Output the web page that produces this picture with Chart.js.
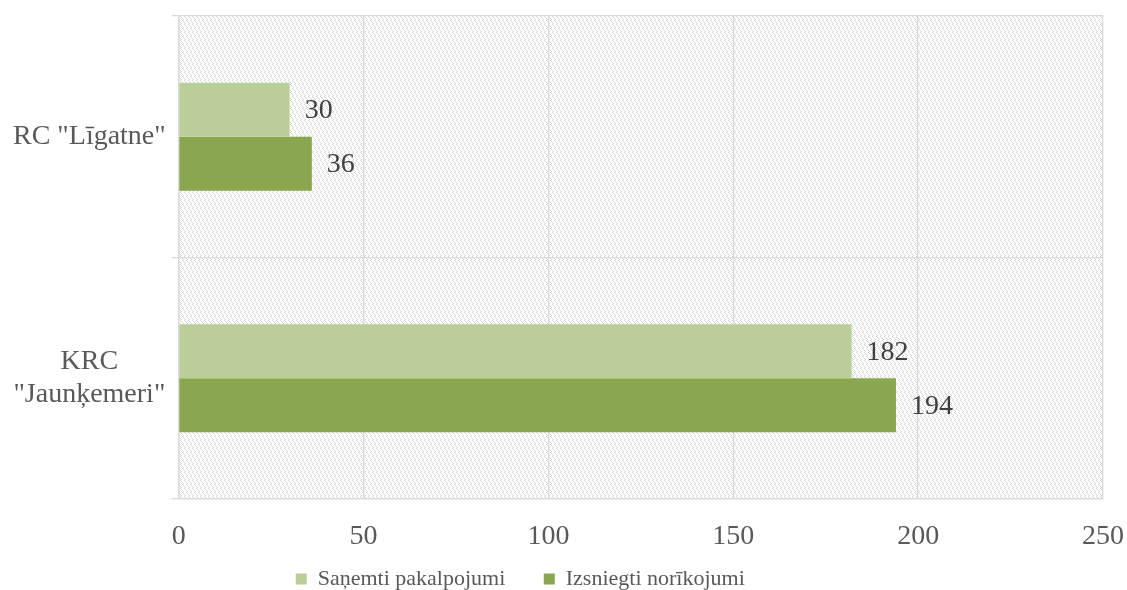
<!DOCTYPE html>
<html>
<head>
<meta charset="utf-8">
<script src="https://cdn.jsdelivr.net/npm/chart.js@4/dist/chart.umd.min.js"></script>
<style>
    html, body { margin: 0; padding: 0; background: #fff; }
    #wrap { width: 1127px; height: 590px; }
</style>
</head>
<body>
<div id="wrap"><canvas id="chart"></canvas></div>
<script>
const categories = ['RC "Līgatne"', ['KRC', '"Jaunķemeri"']];
const seriesNames = ["Saņemti pakalpojumi", "Izsniegti norīkojumi"];
const received = [30, 182];
const issued = [36, 194];
const xTicks = [0, 50, 100, 150, 200, 250];

const font = "'Liberation Serif', 'Times New Roman', serif";

// dashed downward diagonal hatch behind the plot area
function makeHatch(ctx) {
    const c = document.createElement("canvas");
    c.width = 8;
    c.height = 8;
    const g = c.getContext("2d");
    g.fillStyle = "#fff";
    g.fillRect(0, 0, 8, 8);
    g.fillStyle = "#d4d4d4";
    for (let i = 0; i < 4; i++) {
        g.fillRect(i, i, 1, 1);
        g.fillRect(i + 4, i, 1, 1);
        g.fillRect((i + 2) % 8, i + 4, 1, 1);
        g.fillRect((i + 6) % 8, i + 4, 1, 1);
    }
    return ctx.createPattern(c, "repeat");
}

const hatchPlugin = {
    id: "hatch",
    beforeDraw: function (chart) {
        const a = chart.chartArea;
        const ctx = chart.ctx;
        ctx.save();
        ctx.fillStyle = makeHatch(ctx);
        ctx.fillRect(a.left, a.top, a.right - a.left, a.bottom - a.top);
        ctx.restore();
    }
};

// push the legend a bit lower, closer to the bottom edge
const legendShift = {
    id: "legendShift",
    afterLayout: function (chart) {
        if (chart.legend) {
            chart.legend.top += 10;
            chart.legend.bottom += 10;
        }
    }
};

const valueLabels = {
    id: "valueLabels",
    afterDatasetsDraw: function (chart) {
        const ctx = chart.ctx;
        ctx.save();
        ctx.font = "28px " + font;
        ctx.fillStyle = "#404040";
        ctx.textAlign = "left";
        ctx.textBaseline = "middle";
        chart.data.datasets.forEach(function (ds, i) {
            chart.getDatasetMeta(i).data.forEach(function (bar, j) {
                ctx.fillText(String(ds.data[j]), bar.x + 15, bar.y + 1);
            });
        });
        ctx.restore();
    }
};

new Chart(document.getElementById("chart"), {
    type: "bar",
    data: {
        labels: categories,
        datasets: [
            { label: seriesNames[0], data: received, backgroundColor: "#bacf98" },
            { label: seriesNames[1], data: issued, backgroundColor: "#8aa64e" }
        ]
    },
    options: {
        indexAxis: "y",
        responsive: true,
        maintainAspectRatio: false,
        animation: false,
        barPercentage: 1,
        categoryPercentage: 0.448,
        layout: { padding: { top: 16, right: 0, left: 7, bottom: 0 } },
        scales: {
            x: {
                min: 0,
                max: 250,
                afterBuildTicks: function (axis) {
                    axis.ticks = xTicks.map(function (v) { return { value: v }; });
                },
                afterFit: function (axis) {
                    axis.height = 59;
                    axis.paddingLeft = 0;
                    axis.paddingRight = 24;
                },
                grid: { color: "#d9d9d9", lineWidth: 1.3, drawTicks: false },
                border: { color: "#d9d9d9", width: 1.3 },
                ticks: { color: "#595959", font: { family: font, size: 28, lineHeight: 0.8 }, padding: 26 }
            },
            y: {
                offset: true,
                afterFit: function (axis) {
                    axis.paddingTop = 0;
                    axis.paddingBottom = 0;
                },
                grid: { offset: true, color: "#d9d9d9", lineWidth: 1.3, tickLength: 7 },
                border: { color: "#d9d9d9", width: 1.3 },
                ticks: {
                    color: "#595959",
                    font: { family: font, size: 28, lineHeight: 1.18 },
                    crossAlign: "center",
                    padding: 6
                }
            }
        },
        plugins: {
            legend: {
                position: "bottom",
                labels: {
                    color: "#595959",
                    font: { family: font, size: 22 },
                    boxWidth: 11,
                    boxHeight: 11,
                    padding: 0,
                    generateLabels: function (chart) {
                        const items = Chart.defaults.plugins.legend.labels.generateLabels(chart);
                        items[0].text = items[0].text + "       ";
                        items[1].text = items[1].text + "                 ";
                        return items;
                    }
                }
            },
            tooltip: { enabled: false }
        }
    },
    plugins: [hatchPlugin, legendShift, valueLabels]
});
</script>
</body>
</html>
